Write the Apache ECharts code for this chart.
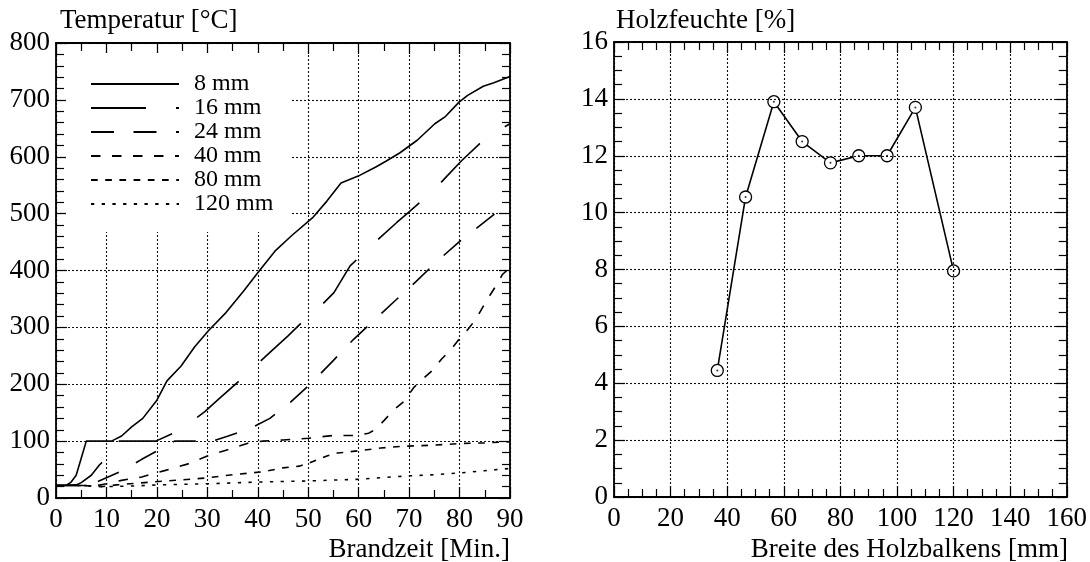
<!DOCTYPE html>
<html>
<head>
<meta charset="utf-8">
<script src="https://cdn.jsdelivr.net/npm/echarts@6/dist/echarts.min.js"></script>
<style>
  html, body { margin: 0; padding: 0; background: #fff; }
  #chart { width: 1090px; height: 562px; }
</style>
</head>
<body>
<div id="chart"></div>
<script>
// Temperature [°C] over fire duration [min] at different depths in the timber
const depthNames = ['8 mm', '16 mm', '24 mm', '40 mm', '80 mm', '120 mm'];
const t8 = [[0,22],[2,22],[3,28],[4,40],[5,70],[6,100],[11,100],[13,109],[15,125],[17.2,140],[20,172],[22,206],[24.8,232],[27.5,266],[30.3,295],[33.7,326],[37.2,364],[40,396],[43.4,434],[46.8,462],[51,494],[53.7,522],[56.5,554],[59.9,566],[63.4,582],[65.4,592],[68.2,607],[71.6,629],[75.1,658],[77.1,670],[79.9,696],[81.6,708],[84.7,724],[86.8,730],[90,741]];
const t16 = [[0,22],[4,23],[5,27],[7,40],[8.6,58],[10,70],[11,97],[11.5,100],[19.8,100],[23,113],[26.4,131],[29.5,152],[32.4,175],[37.2,213],[42.9,260],[46,285],[49.1,312],[52.3,336],[55.1,361],[58.3,408],[61.5,435],[64.4,459],[67.5,484],[69.6,500],[74.9,541],[77.5,566],[80.4,593],[84,623],[86.8,642],[90,658]];
const t24 = [[0,22],[6,22],[8.3,29],[13,47.5],[17,68],[21.5,90],[23.5,100],[31,100],[34,108.6],[38.2,121],[42.4,140],[46.5,168.6],[50.5,201],[55,242],[59,279],[63,312],[67,345],[71.3,380],[75.4,415],[79.8,449.5],[83.9,478],[88.3,509],[90,520]];
const t40 = [[0,22],[8,22],[10,25],[13,31],[17,37],[19.3,43],[21.7,48.6],[26.2,60],[30,74],[33.7,84],[37.9,96],[41,100],[45,102],[50,105],[55,110],[59.6,110],[62,114],[63.4,121],[65.1,137],[67.1,156],[68.9,169],[70.9,194],[72.3,206],[74.7,225],[76.4,244],[78.5,263],[79.9,279],[81.8,298],[83.2,314],[85.4,348],[87.5,377],[88.5,393],[90,405]];
const t80 = [[0,22],[5,22],[9,20],[12,23],[16,26],[22,30],[25,32],[29.5,35],[35,41],[41,46],[45,53],[48.2,56],[50.3,62],[52,68],[53.7,74],[55.8,79],[57.9,81],[61,84],[64.4,88],[68.9,91],[75,93],[80.6,96],[85,97],[90,99]];
const t120 = [[0,22],[5,22],[10,20],[15,21],[20,23],[30,25],[40,28],[50,30],[55,31.5],[60,33],[65,36],[70,39],[75,41],[80,44],[85,48],[90,52]];
const depthDashes = ['solid', [55, 30], [23, 19.5], [9.5, 11.5], [6.7, 7.5], [3.3, 7.4]];

// Wood moisture [%] across the beam width [mm]
const beamWidth = [36.5, 46.5, 56.5, 66.5, 76.5, 86.5, 96.5, 106.5, 120];
const moisture = [4.45, 10.55, 13.9, 12.5, 11.75, 12.0, 12.0, 13.7, 7.95];

const FONT = '"Liberation Serif", "Times New Roman", serif';
const temps = [t8, t16, t24, t40, t80, t120];

function valueAxis(opts) {
  return {
    type: 'value',
    gridIndex: opts.grid,
    position: opts.position,
    min: opts.min, max: opts.max, interval: opts.interval,
    axisLine: { show: true, onZero: false, lineStyle: { color: '#000', width: 1.8 } },
    axisTick: { show: true, inside: true, length: 11, lineStyle: { color: '#000', width: 1.2 } },
    minorTick: { show: true, splitNumber: opts.minor, length: 8, lineStyle: { color: '#000', width: 1.2 } },
    axisLabel: opts.labels ? { show: true, color: '#000', fontFamily: FONT, fontSize: 27, margin: opts.margin } : { show: false },
    splitLine: opts.labels ? { show: true, lineStyle: { color: '#111', width: 1.1, type: [2, 2] } } : { show: false },
    z: 3
  };
}

const chart = echarts.init(document.getElementById('chart'), null, { renderer: 'canvas' });

const series = temps.map((d, i) => ({
  name: depthNames[i],
  type: 'line',
  xAxisIndex: 0, yAxisIndex: 0,
  data: d,
  symbol: 'none',
  smooth: false,
  lineStyle: { color: '#000', width: 1.6, type: depthDashes[i] },
  itemStyle: { color: '#000' },
  z: 2
}));

series.push({
  name: 'Holzfeuchte',
  type: 'line',
  xAxisIndex: 2, yAxisIndex: 2,
  data: beamWidth.map((w, i) => [w, moisture[i]]),
  symbol: 'circle',
  symbolSize: 12,
  lineStyle: { color: '#000', width: 1.6 },
  itemStyle: { color: '#fff', borderColor: '#000', borderWidth: 1.3 },
  z: 2
});
series.push({
  name: 'Messpunkt',
  type: 'scatter',
  xAxisIndex: 2, yAxisIndex: 2,
  data: beamWidth.map((w, i) => [w, moisture[i]]),
  symbol: 'circle',
  symbolSize: 2,
  itemStyle: { color: '#000' },
  z: 3
});

const titleStyle = { fontFamily: FONT, fontSize: 27, fontWeight: 'normal', color: '#000' };

chart.setOption({
  animation: false,
  backgroundColor: '#fff',
  textStyle: { fontFamily: FONT },
  grid: [
    { left: 56, top: 43, width: 454, height: 455 },
    { left: 614, top: 42, width: 453, height: 455 }
  ],
  title: [
    { text: 'Temperatur [°C]', left: 60, top: 7, padding: 0, textStyle: titleStyle },
    { text: 'Holzfeuchte [%]', left: 616, top: 7, padding: 0, textStyle: titleStyle },
    { text: 'Brandzeit [Min.]', right: 580, top: 536, padding: 0, textStyle: titleStyle },
    { text: 'Breite des Holzbalkens [mm]', right: 22, top: 536, padding: 0, textStyle: titleStyle }
  ],
  legend: {
    data: depthNames,
    orient: 'vertical',
    left: 66,
    top: 53,
    padding: [19, 18, 16, 24],
    backgroundColor: '#fff',
    itemWidth: 88,
    itemHeight: 14,
    itemGap: 0,
    selectedMode: false,
    itemStyle: { opacity: 0 },
    textStyle: { fontFamily: FONT, fontSize: 24, color: '#000', lineHeight: 24, padding: [0, 0, 0, 10] },
    z: 5
  },
  xAxis: [
    valueAxis({ grid: 0, position: 'bottom', min: 0, max: 90, interval: 10, minor: 2, labels: true, margin: 8 }),
    valueAxis({ grid: 0, position: 'top', min: 0, max: 90, interval: 10, minor: 2, labels: false }),
    valueAxis({ grid: 1, position: 'bottom', min: 0, max: 160, interval: 20, minor: 4, labels: true, margin: 8 }),
    valueAxis({ grid: 1, position: 'top', min: 0, max: 160, interval: 20, minor: 4, labels: false })
  ],
  yAxis: [
    valueAxis({ grid: 0, position: 'left', min: 0, max: 800, interval: 100, minor: 5, labels: true, margin: 6 }),
    valueAxis({ grid: 0, position: 'right', min: 0, max: 800, interval: 100, minor: 5, labels: false }),
    valueAxis({ grid: 1, position: 'left', min: 0, max: 16, interval: 2, minor: 4, labels: true, margin: 6 }),
    valueAxis({ grid: 1, position: 'right', min: 0, max: 16, interval: 2, minor: 4, labels: false })
  ],
  series: series
});
</script>
</body>
</html>
